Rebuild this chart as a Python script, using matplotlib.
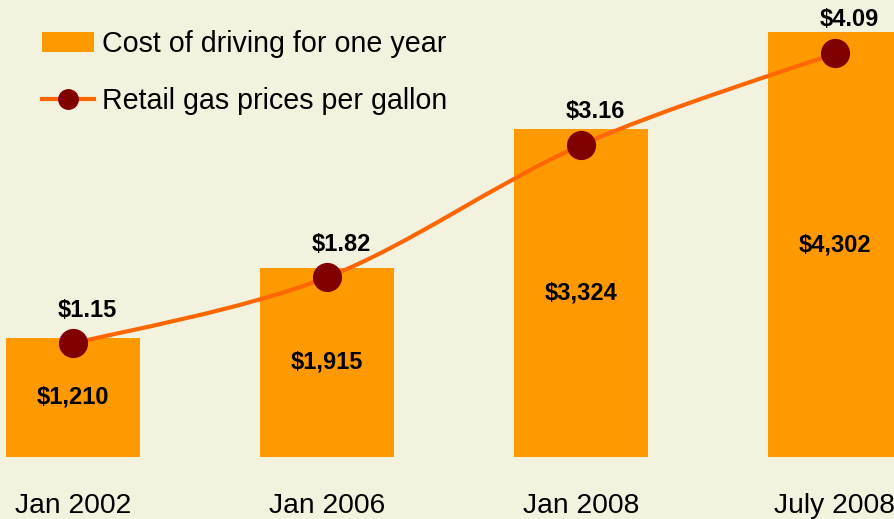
import matplotlib
matplotlib.use("Agg")
import matplotlib.pyplot as plt
from matplotlib.path import Path
from matplotlib.patches import PathPatch, Patch
from matplotlib.lines import Line2D
import numpy as np

plt.rcParams['font.family'] = ['Liberation Sans', 'DejaVu Sans']

categories = ["Jan 2002", "Jan 2006", "Jan 2008", "July 2008"]
cost_values = [1210, 1915, 3324, 4302]
cost_labels = ["$1,210", "$1,915", "$3,324", "$4,302"]
gas_values = [1.15, 1.82, 3.16, 4.09]
gas_labels = ["$1.15", "$1.82", "$3.16", "$4.09"]

BG = "#F3F2DE"
BAR = "#FF9900"
LINE = "#FF6600"
MARK = "#800000"

W, H = 895, 519
fig = plt.figure(figsize=(W / 100, H / 100), dpi=100, facecolor=BG)
bottom_px = 62
ax = fig.add_axes([0, bottom_px / H, 1, 1 - bottom_px / H])
ax.set_facecolor(BG)

x = np.arange(len(categories))
spacing = 254.0
ax.set_xlim(-73 / spacing, (W - 73) / spacing)
ymax = 4630
ax.set_ylim(0, ymax)

bars = ax.bar(x, cost_values, width=134 / spacing, color=BAR, zorder=1)
for xi, v, lab in zip(x, cost_values, cost_labels):
    ax.text(xi, v / 2, lab, ha="center", va="center", fontsize=17,
            fontweight="bold", color="black", zorder=5)

ax2 = ax.twinx()
ax2.set_ylim(0, ymax / 1000)
ax2.set_xlim(ax.get_xlim())

# smooth curve (Catmull-Rom style Bezier) through the data points
pts = np.column_stack([x, gas_values]).astype(float)
n = len(pts)
verts = [tuple(pts[0])]
codes = [Path.MOVETO]
for i in range(n - 1):
    p0 = pts[i - 1] if i > 0 else pts[i]
    p1 = pts[i]
    p2 = pts[i + 1]
    p3 = pts[i + 2] if i + 2 < n else pts[i + 1]
    c1 = p1 + (p2 - p0) / 6
    c2 = p2 - (p3 - p1) / 6
    verts += [tuple(c1), tuple(c2), tuple(p2)]
    codes += [Path.CURVE4] * 3
ax2.add_patch(PathPatch(Path(verts, codes), facecolor="none", edgecolor=LINE,
                        lw=3, zorder=3, capstyle="round"))
ax2.plot(x, gas_values, linestyle="none", marker="o", markersize=20,
         markerfacecolor=MARK, markeredgecolor=MARK, zorder=4)
for xi, v, lab in zip(x, gas_values, gas_labels):
    ax2.annotate(lab, (xi, v), xytext=(10, 24), textcoords="offset points",
                 ha="center", va="center", fontsize=17, fontweight="bold",
                 color="black", zorder=5)

for a in (ax, ax2):
    for s in a.spines.values():
        s.set_visible(False)
    a.set_yticks([])
ax.set_xticks(x)
ax.set_xticklabels(categories, fontsize=20.3)
ax.tick_params(axis="x", length=0, pad=26)
ax2.tick_params(axis="x", length=0)

handles = [Patch(facecolor=BAR, edgecolor="none"),
           Line2D([0], [0], color=LINE, lw=3, marker="o", markersize=14,
                  markerfacecolor=MARK, markeredgecolor=MARK)]
leg = ax2.legend(handles, ["Cost of driving for one year", "Retail gas prices per gallon"],
                 loc="upper left", bbox_to_anchor=(42 / W, 1 - 30 / (H - bottom_px)),
                 bbox_transform=ax.transAxes, frameon=False, fontsize=20.6,
                 handlelength=1.8, handleheight=0.72, handletextpad=0.3,
                 labelspacing=1.03, borderpad=0, borderaxespad=0)

fig.savefig("out.png", dpi=100, facecolor=BG)
